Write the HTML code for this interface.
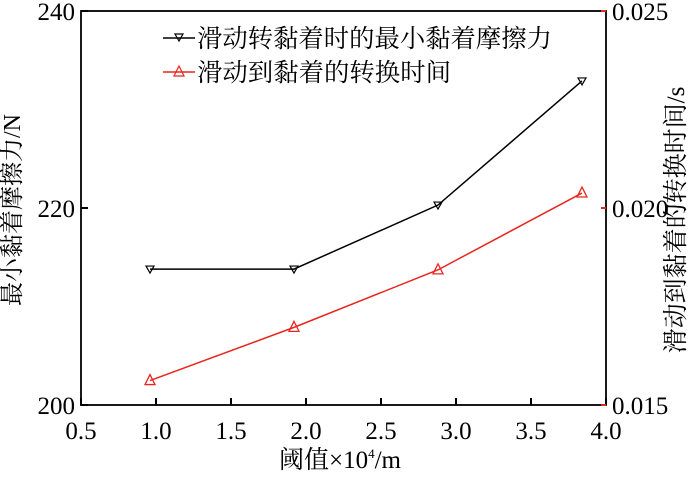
<!DOCTYPE html>
<html><head><meta charset="utf-8"><style>
body{margin:0;background:#fff;}
svg text{font-family:"Liberation Serif","Noto Serif CJK SC","Noto Sans CJK SC",serif;}
</style></head><body>
<svg width="700" height="473" viewBox="0 0 700 473" xmlns="http://www.w3.org/2000/svg">
<g id="axes"></g><g id="series"></g>
<g>
 <line x1="163" y1="38" x2="195" y2="38" stroke="#000" stroke-width="1.5"/>
 <path d="M175,34 L183,34 L179,41 Z" fill="none" stroke="#000" stroke-width="1.2"/>
 <text x="197" y="47" font-size="25" textLength="355" lengthAdjust="spacingAndGlyphs">滑动转黏着时的最小黏着摩擦力</text>
 <line x1="163" y1="72" x2="195" y2="72" stroke="#e8251f" stroke-width="1.5"/>
 <path d="M179,66 L184,76 L174,76 Z" fill="none" stroke="#e8251f" stroke-width="1.2"/>
 <text x="197" y="81" font-size="25" textLength="254" lengthAdjust="spacingAndGlyphs">滑动到黏着的转换时间</text>
</g>
<text x="20" y="210" font-size="24" text-anchor="middle" transform="rotate(-90 20 210)">最小黏着摩擦力/N</text>
<text x="684" y="220" font-size="25" text-anchor="middle" transform="rotate(-90 684 220)">滑动到黏着的转换时间/s</text>
<text x="340" y="468" font-size="25" text-anchor="middle">阈值×10<tspan font-size="13" dy="-10">4</tspan><tspan dy="10">/m</tspan></text>
</svg>
<script>
const xs=[0.96,1.92,2.88,3.84];
const friction=[213.8,213.8,220.3,232.9];
const timeS=[0.01562,0.01697,0.01843,0.02038];
const xTicks=[0.5,1.0,1.5,2.0,2.5,3.0,3.5,4.0];
const yLeftTicks=[200,220,240];
const yRightTicks=[0.015,0.020,0.025];
const L=81,R=606,T=11,B=405;
const X=v=>L+(v-0.5)/3.5*(R-L);
const YL=v=>B-(v-200)/40*(B-T);
const YR=v=>B-(v-0.015)/0.01*(B-T);
const NS='http://www.w3.org/2000/svg';
function mk(tag,attrs,parent){const e=document.createElementNS(NS,tag);for(const k in attrs)e.setAttribute(k,attrs[k]);parent.appendChild(e);return e;}
const ax=document.getElementById('axes'),se=document.getElementById('series');
const fr=mk('rect',{x:L,y:T,width:R-L,height:B-T,fill:'none',stroke:'#000','stroke-width':1.8},ax);


xTicks.forEach(v=>{
 const t=mk('line',{x1:X(v),y1:B,x2:X(v),y2:B-7,stroke:'#000','stroke-width':2},ax);
 
 
 const l=mk('text',{x:X(v),y:B+34,'font-size':25,'text-anchor':'middle'},ax);l.textContent=v.toFixed(1);
 
 
});
yLeftTicks.forEach(v=>{
 const t=mk('line',{x1:L,y1:YL(v),x2:L+7,y2:YL(v),stroke:'#000','stroke-width':2},ax);
 
 
 const l=mk('text',{x:L-6,y:YL(v)+9,'font-size':25,'text-anchor':'end'},ax);l.textContent=v;
 
 
});
yRightTicks.forEach(v=>{
 const t=mk('line',{x1:R-5,y1:YR(v),x2:R,y2:YR(v),stroke:'#e8251f','stroke-width':2},ax);
 
 
 const l=mk('text',{x:R+6,y:YR(v)+9,'font-size':25},ax);l.textContent=v.toFixed(3);
 
 
});
const p1=mk('polyline',{points:xs.map((x,i)=>X(x)+','+YL(friction[i])).join(' '),fill:'none',stroke:'#000','stroke-width':1.5},se);


xs.forEach((x,i)=>{const cx=X(x),cy=YL(friction[i]);
 const m=mk('path',{d:`M${cx-4},${cy-3} L${cx+4},${cy-3} L${cx},${cy+4} Z`,fill:'none',stroke:'#000','stroke-width':1.2},se);
 
 });
const p2=mk('polyline',{points:xs.map((x,i)=>X(x)+','+YR(timeS[i])).join(' '),fill:'none',stroke:'#e8251f','stroke-width':1.5},se);


xs.forEach((x,i)=>{const cx=X(x),cy=YR(timeS[i]);
 const m=mk('path',{d:`M${cx},${cy-6} L${cx+5},${cy+4} L${cx-5},${cy+4} Z`,fill:'none',stroke:'#e8251f','stroke-width':1.3},se);
 
 });
</script>
</body></html>
